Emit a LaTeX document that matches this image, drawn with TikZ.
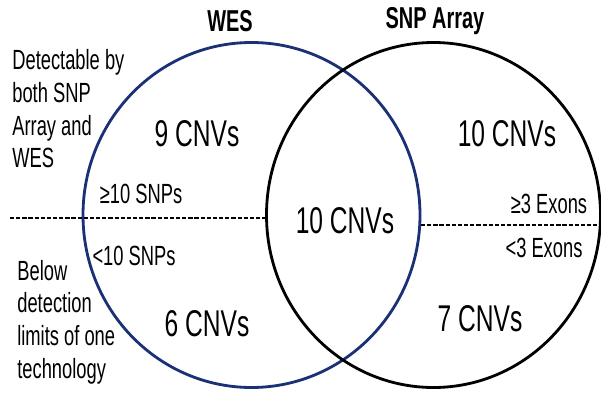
\documentclass[tikz,border=0pt]{standalone}
\usepackage{fontspec}
\setmainfont{Liberation Sans}[FakeStretch=0.66]
\usepackage{tikz}

\definecolor{wesblue}{RGB}{28,48,118}

\tikzset{
  setring/.style={line width=1.6pt},
  split/.style={line width=1.4pt,dash pattern=on 2.4pt off 1.1pt},
  head/.style={font=\fontsize{17.2}{20}\selectfont\bfseries},
  count/.style={font=\fontsize{21.2}{24}\selectfont},
  note/.style={font=\fontsize{15.8}{18.6}\selectfont,inner sep=0pt},
}

\begin{document}
\begin{tikzpicture}[x=0.02cm,y=-0.02cm]
  \useasboundingbox[fill=white] (0,0) rectangle (601,395);

  % the two sets
  \draw[setring,wesblue] (251.5,215) ellipse[x radius=168.5,y radius=172.5];
  \draw[setring,black] (433.5,215) ellipse[x radius=167,y radius=172.5];

  % thresholds
  \coordinate (lsplitA) at (10,218);
  \coordinate (lsplitB) at (267,218);
  \coordinate (rsplitA) at (421,225);
  \coordinate (rsplitB) at (601,225);
  \draw[split] (lsplitA) -- (lsplitB);
  \draw[split] (rsplitA) -- (rsplitB);

  % headers
  \node[head] (wes) at (230,21) {WES};
  \node[head] (snp) at (435,21) {SNP Array};

  % counts
  \node[count] (wesonly) at (197,134) {9 CNVs};
  \node[count] (snponly) at (507,134) {10 CNVs};
  \node[count] (both) at (345,221) {10 CNVs};
  \node[count] (wessmall) at (207,324) {6 CNVs};
  \node[count] (snpsmall) at (480,319) {7 CNVs};

  % side notes
  \node[note,anchor=west,align=left] (detect) at (12,109)
    {Detectable by\\both SNP\\Array and\\WES};
  \node[note,anchor=west,align=left] (below) at (17,322)
    {Below\\detection\\limits of one\\technology};
  \node[note] (snphi) at (141,194) {≥10 SNPs};
  \node[note] (snplo) at (134,256) {<10 SNPs};
  \node[note] (exonhi) at (549,204) {≥3 Exons};
  \node[note] (exonlo) at (544,248) {<3 Exons};
\end{tikzpicture}
\end{document}
